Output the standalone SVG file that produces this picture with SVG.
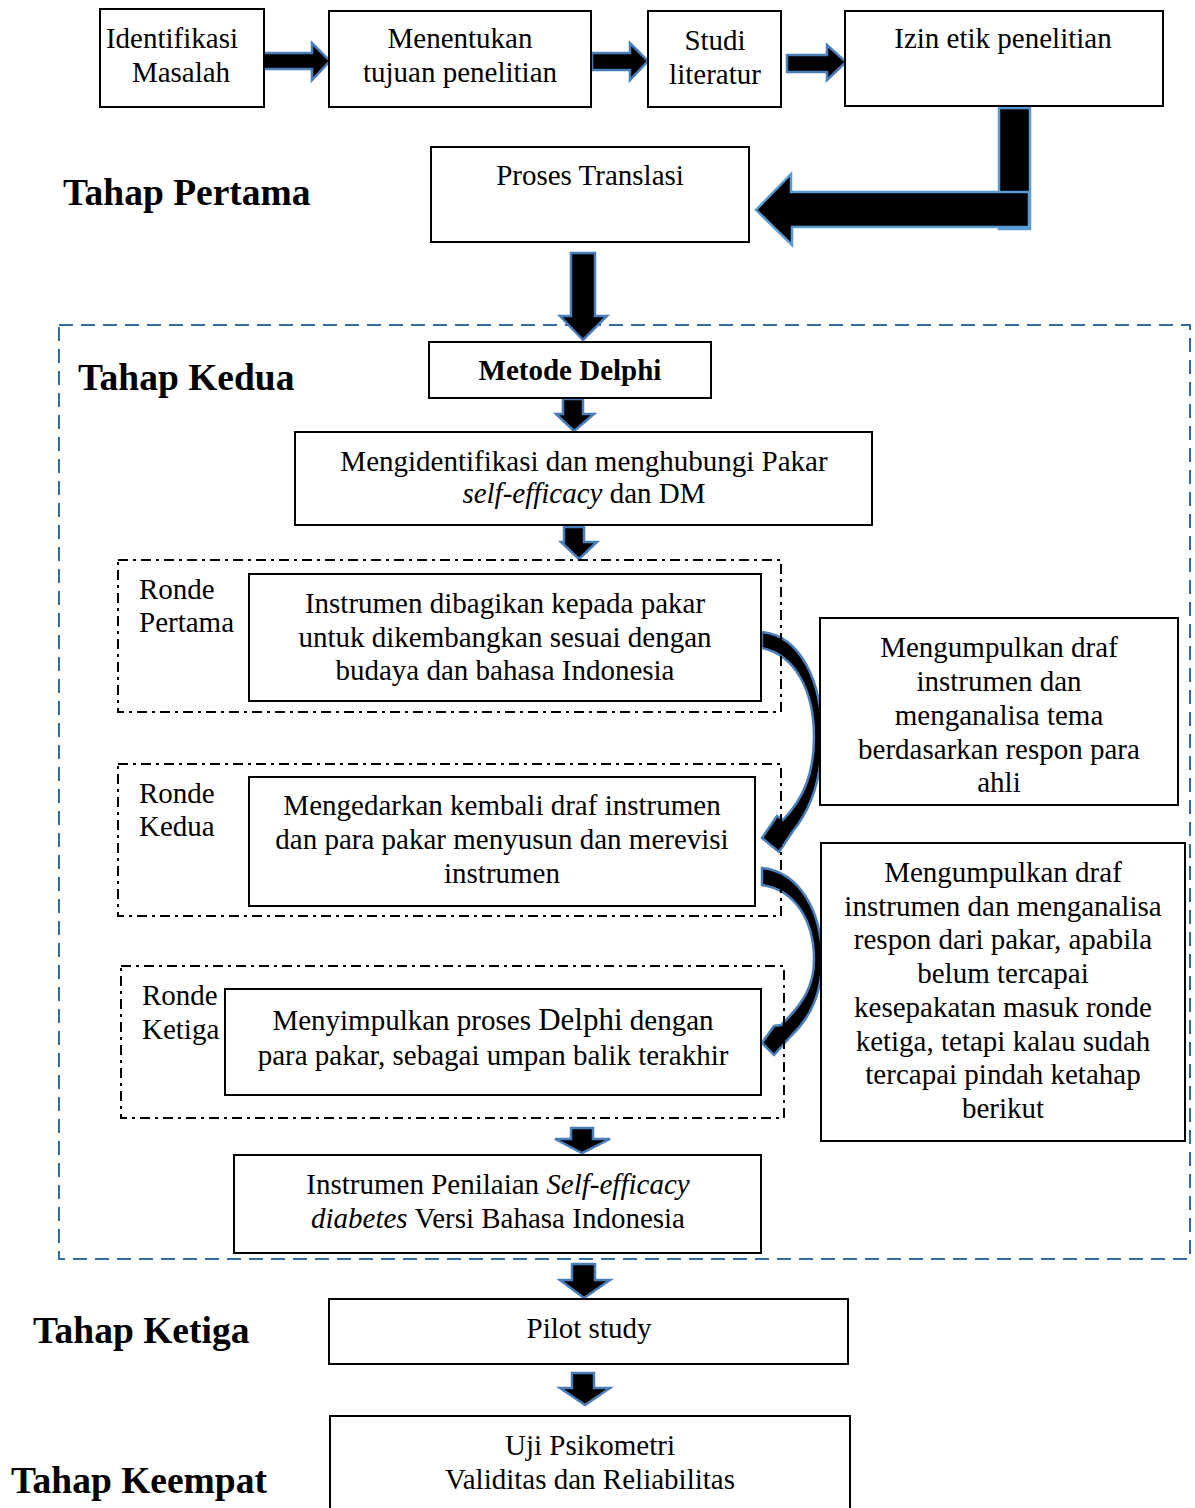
<svg xmlns="http://www.w3.org/2000/svg" width="1195" height="1508" viewBox="0 0 1195 1508">
<style>
.box{fill:#fff;stroke:#000;stroke-width:2}
.dd{fill:none;stroke:#000;stroke-width:2;stroke-dasharray:10,5,3,5}
.cont{fill:none;stroke:#2e6da4;stroke-width:2;stroke-dasharray:14,8}
.arr{fill:#000;stroke:#4a7ebb;stroke-width:2.5;stroke-linejoin:miter}
.arr2{fill:#000;stroke:#5b9bd5;stroke-width:2.5}
text{font-family:"Liberation Serif","Times New Roman",serif;font-size:29px;fill:#000}
.c{text-anchor:middle}
.h{font-weight:bold;font-size:37.5px}
.b{font-weight:bold}
.i{font-style:italic}
</style>
<rect width="1195" height="1508" fill="#fff"/>
<rect class="cont" x="59" y="325" width="1131" height="934"/>
<g id="connectors">
<polygon class="arr" points="262,53 312,53 312,43 330,61 312,80 312,69 262,69"/>
<polygon class="arr" points="592,53 630,53 630,43 648,61 630,80 630,70 592,70"/>
<polygon class="arr" points="787,55 827,55 827,45 846,62 827,80 827,72 787,72"/>
<rect class="arr2" x="999" y="108" width="31" height="121"/>
<polygon class="arr2" points="1029,192 791,192 791,174 756,210 792,245 792,227 1029,227"/>
<polygon class="arr" points="571,253 595,253 595,316 607,316 583,340 560,316 571,316"/>
<polygon class="arr" points="563,399 583,399 583,414 594,414 574,431 556,414 563,414"/>
<polygon class="arr" points="564,527 584,527 584,542 597,542 579,559 561,542 564,542"/>
<path class="arr" d="M762,632 C800,636 822,680 822,737 C822,782 810,810 793,831 L779,852 L762,838 L777,816 L783,820 C804,798 814,773 814,737 C814,690 795,655 762,648 Z"/>
<path class="arr" d="M762,868 C800,872 822,912 822,960 C822,995 810,1018 791,1036 L774,1055 L762,1043 L774,1026 L781,1025 C804,1003 814,985 814,960 C814,920 795,890 762,885 Z"/>
<polygon class="arr" points="571,1128 593,1128 593,1139 610,1139 582,1153 555,1139 571,1139"/>
<polygon class="arr" points="572,1264 595,1264 595,1280 610,1280 584,1298 560,1280 572,1280"/>
<polygon class="arr" points="572,1373 594,1373 594,1388 610,1388 585,1405 560,1388 572,1388"/>
</g>
<g id="n1"><rect class="box" x="100" y="9" width="164" height="98"/><text x="172" y="48" class="c">Identifikasi</text><text x="181" y="82" class="c">Masalah</text></g>
<g id="n2"><rect class="box" x="329" y="11" width="262" height="96"/><text x="460" y="48" class="c">Menentukan</text><text x="460" y="82" class="c">tujuan penelitian</text></g>
<g id="n3"><rect class="box" x="648" y="11" width="133" height="96"/><text x="715" y="50" class="c">Studi</text><text x="715" y="84" class="c">literatur</text></g>
<g id="n4"><rect class="box" x="845" y="11" width="318" height="95"/><text x="1003" y="48" class="c">Izin etik penelitian</text></g>
<g id="n5"><rect class="box" x="431" y="147" width="318" height="95"/><text x="590" y="185" class="c">Proses Translasi</text></g>
<g id="l1"><text x="63" y="205" class="h">Tahap Pertama</text></g>
<g id="l2"><text x="78" y="390" class="h">Tahap Kedua</text></g>
<g id="n6"><rect class="box" x="429" y="342" width="282" height="56"/><text x="570" y="380" class="c b">Metode Delphi</text></g>
<g id="n7"><rect class="box" x="295" y="432" width="577" height="93"/><text x="584" y="471" class="c">Mengidentifikasi dan menghubungi Pakar</text><text x="584" y="503" class="c"><tspan class="i">self-efficacy</tspan> dan DM</text></g>
<g id="r1"><rect class="dd" x="118" y="560" width="663" height="152"/><text x="139" y="599">Ronde</text><text x="139" y="632">Pertama</text>
<rect class="box" x="249" y="574" width="512" height="127"/><text x="505" y="613" class="c">Instrumen dibagikan kepada pakar</text><text x="505" y="647" class="c">untuk dikembangkan sesuai dengan</text><text x="505" y="680" class="c">budaya dan bahasa Indonesia</text></g>
<g id="n8"><rect class="box" x="820" y="618" width="358" height="187"/><text x="999" y="657" class="c">Mengumpulkan draf</text><text x="999" y="691" class="c">instrumen dan</text><text x="999" y="725" class="c">menganalisa tema</text><text x="999" y="759" class="c">berdasarkan respon para</text><text x="999" y="792" class="c">ahli</text></g>
<g id="r2"><rect class="dd" x="118" y="764" width="663" height="152"/><text x="139" y="803">Ronde</text><text x="139" y="836">Kedua</text>
<rect class="box" x="249" y="777" width="506" height="129"/><text x="502" y="815" class="c">Mengedarkan kembali draf instrumen</text><text x="502" y="849" class="c">dan para pakar menyusun dan merevisi</text><text x="502" y="883" class="c">instrumen</text></g>
<g id="n9"><rect class="box" x="821" y="843" width="364" height="298"/><text x="1003" y="882" class="c">Mengumpulkan draf</text><text x="1003" y="916" class="c">instrumen dan menganalisa</text><text x="1003" y="949" class="c">respon dari pakar, apabila</text><text x="1003" y="983" class="c">belum tercapai</text><text x="1003" y="1017" class="c">kesepakatan masuk ronde</text><text x="1003" y="1051" class="c">ketiga, tetapi kalau sudah</text><text x="1003" y="1084" class="c">tercapai pindah ketahap</text><text x="1003" y="1118" class="c">berikut</text></g>
<g id="r3"><rect class="dd" x="121" y="966" width="663" height="152"/><text x="142" y="1005">Ronde</text><text x="142" y="1039">Ketiga</text>
<rect class="box" x="225" y="989" width="536" height="106"/><text x="493" y="1030" class="c">Menyimpulkan proses <tspan font-size="31">Delphi</tspan> dengan</text><text x="493" y="1065" class="c">para pakar, sebagai umpan balik terakhir</text></g>
<g id="n10"><rect class="box" x="234" y="1155" width="527" height="98"/><text x="498" y="1194" class="c">Instrumen Penilaian <tspan class="i">Self-efficacy</tspan></text><text x="498" y="1228" class="c"><tspan class="i">diabetes</tspan> Versi Bahasa Indonesia</text></g>
<g id="l3"><text x="33" y="1343" class="h">Tahap Ketiga</text></g>
<g id="n11"><rect class="box" x="329" y="1299" width="519" height="65"/><text x="589" y="1338" class="c">Pilot study</text></g>
<g id="n12"><rect class="box" x="330" y="1416" width="520" height="100"/><text x="590" y="1455" class="c">Uji Psikometri</text><text x="590" y="1489" class="c">Validitas dan Reliabilitas</text></g>
<g id="l4"><text x="11" y="1493" class="h">Tahap Keempat</text></g>
</svg>
